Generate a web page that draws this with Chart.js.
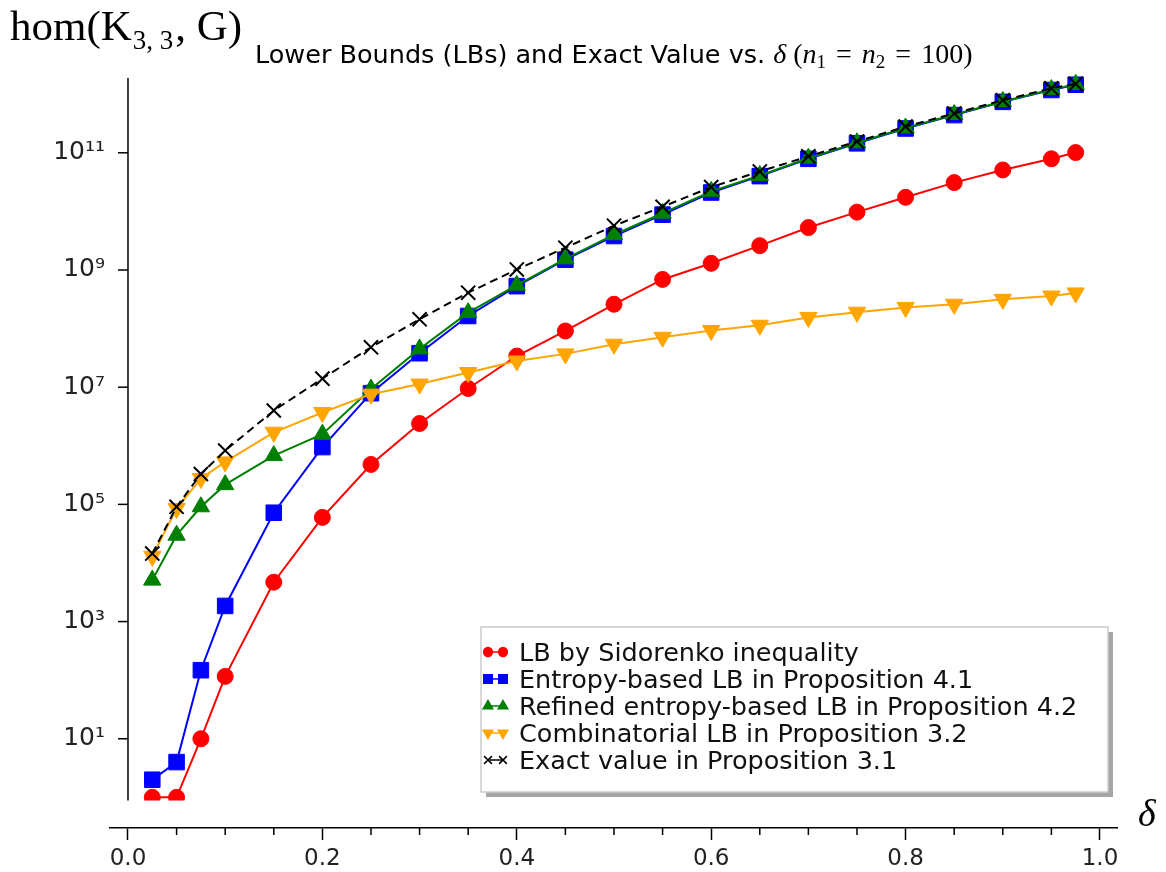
<!DOCTYPE html>
<html>
<head>
<meta charset="utf-8">
<script src="https://cdn.jsdelivr.net/npm/chart.js@4"></script>
<style>
  html, body { margin: 0; padding: 0; background: #fff; }
  #wrap { width: 1166px; height: 872px; }
</style>
</head>
<body>
<div id="wrap"><canvas id="homChart" width="1166" height="872"></canvas></div>
<script>
// delta values (x) and the five series
const deltas = [0.025, 0.05, 0.075, 0.1, 0.15, 0.2, 0.25, 0.3, 0.35, 0.4, 0.45,
                0.5, 0.55, 0.6, 0.65, 0.7, 0.75, 0.8, 0.85, 0.9, 0.95, 0.975];

const sidorenkoLB = [1, 1, 10, 116, 4.7e3, 6.0e4, 4.8e5, 2.4e6, 9.5e6, 3.4e7, 9.1e7,
                     2.6e8, 6.9e8, 1.3e9, 2.6e9, 5.3e9, 9.7e9, 1.74e10, 3.1e10, 5.1e10, 7.9e10, 1.01e11];

const entropyLB = [2, 4, 148, 1850, 7.2e4, 9.5e5, 7.9e6, 3.8e7, 1.64e8, 5.3e8, 1.5e9,
                   3.8e9, 8.8e9, 2.1e10, 4.0e10, 7.9e10, 1.45e11, 2.6e11, 4.4e11, 7.4e11, 1.18e12, 1.45e12];

const refinedEntropyLB = [5.1e3, 2.98e4, 9.1e4, 2.17e5, 6.8e5, 1.58e6, 9.3e6, 4.5e7, 1.87e8, 5.5e8, 1.55e9,
                          4.0e9, 9.3e9, 2.2e10, 4.1e10, 8.1e10, 1.48e11, 2.65e11, 4.5e11, 7.5e11, 1.2e12, 1.47e12];

const combinatorialLB = [1.3e4, 8.5e4, 2.76e5, 5.3e5, 1.7e6, 3.7e6, 7.6e6, 1.13e7, 1.78e7, 2.8e7, 3.7e7,
                         5.4e7, 7.1e7, 9.3e7, 1.14e8, 1.55e8, 1.9e8, 2.3e8, 2.6e8, 3.16e8, 3.6e8, 4.06e8];

const exactValue = [1.45e4, 9.1e4, 3.3e5, 8.3e5, 4.0e6, 1.4e7, 4.8e7, 1.44e8, 4.1e8, 1.02e9, 2.4e9,
                    5.7e9, 1.2e10, 2.6e10, 4.8e10, 8.7e10, 1.56e11, 2.8e11, 4.7e11, 7.9e11, 1.26e12, 1.5e12];

const seriesLabels = [
  'LB by Sidorenko inequality',
  'Entropy-based LB in Proposition 4.1',
  'Refined entropy-based LB in Proposition 4.2',
  'Combinatorial LB in Proposition 3.2',
  'Exact value in Proposition 3.1'
];

const xTickValues = [0, 0.05, 0.1, 0.15, 0.2, 0.25, 0.3, 0.35, 0.4, 0.45, 0.5,
                     0.55, 0.6, 0.65, 0.7, 0.75, 0.8, 0.85, 0.9, 0.95, 1.0];
const yTickValues = [1e1, 1e3, 1e5, 1e7, 1e9, 1e11];

const SUP = {'0':'⁰','1':'¹','2':'²','3':'³','4':'⁴','5':'⁵','6':'⁶','7':'⁷','8':'⁸','9':'⁹'};
function powLabel(v) {
  const e = Math.round(Math.log10(v));
  return '10' + String(e).split('').map(c => SUP[c]).join('');
}
function isMajorX(v) {
  return Math.abs(v * 5 - Math.round(v * 5)) < 1e-9;
}

function pts(ys) {
  return deltas.map((d, i) => ({x: d, y: ys[i]}));
}

const sansFont = "'DejaVu Sans', sans-serif";
const serifFont = "'Liberation Serif', 'DejaVu Serif', serif";
const Y_FLOOR = 0.88; // where the y spine stops

// axes lines, minor ticks, titles and the boxed legend
const decorations = {
  id: 'decorations',
  beforeDatasetsDraw(chart) {
    const {ctx, chartArea} = chart;
    const bottom = chart.scales.y.getPixelForValue(Y_FLOOR);
    ctx.save();
    ctx.beginPath();
    ctx.rect(chartArea.left, chartArea.top - 20, chartArea.right - chartArea.left, bottom - chartArea.top + 20);
    ctx.clip();
  },
  afterDatasetsDraw(chart) {
    chart.ctx.restore();
  },
  afterDraw(chart) {
    const {ctx, chartArea} = chart;
    const xs = chart.scales.x, ys = chart.scales.y;
    const x0 = xs.getPixelForValue(0);
    ctx.save();
    ctx.strokeStyle = '#000';
    ctx.lineWidth = 1.5;

    // detached y axis
    ctx.beginPath();
    ctx.moveTo(x0, chartArea.top);
    ctx.lineTo(x0, ys.getPixelForValue(Y_FLOOR));
    ctx.stroke();
    ys.ticks.forEach(t => {
      const py = ys.getPixelForValue(t.value);
      ctx.beginPath();
      ctx.moveTo(x0 - 10, py);
      ctx.lineTo(x0, py);
      ctx.stroke();
    });

    // minor x ticks
    xs.ticks.forEach(t => {
      if (isMajorX(t.value)) return;
      const px = xs.getPixelForValue(t.value);
      ctx.beginPath();
      ctx.moveTo(px, chartArea.bottom);
      ctx.lineTo(px, chartArea.bottom + 7);
      ctx.stroke();
    });

    // y-axis title hom(K_{3,3}, G)
    ctx.fillStyle = '#000';
    ctx.textBaseline = 'alphabetic';
    ctx.textAlign = 'left';
    let cx = 10;
    const big = '43px ' + serifFont, sub = '27px ' + serifFont;
    ctx.font = big; ctx.fillText('hom(K', cx, 40); cx += ctx.measureText('hom(K').width;
    ctx.font = sub; ctx.fillText('3, 3', cx + 1, 49); cx += ctx.measureText('3, 3').width + 3;
    ctx.font = big; ctx.fillText(', G)', cx, 40);

    // plot title
    cx = 255;
    const by = 63;
    ctx.font = '25.5px ' + sansFont;
    const t1 = 'Lower Bounds (LBs) and Exact Value vs. ';
    ctx.fillText(t1, cx, by); cx += ctx.measureText(t1).width;
    // [font, text, baseline shift, extra gap after]
    const parts = [
      ['italic 28px ' + serifFont, 'δ', 0, 0],
      ['28px ' + serifFont, ' (', 0, 0],
      ['italic 28px ' + serifFont, 'n', 0, 0],
      ['19px ' + serifFont, '1', 5, 3],
      ['28px ' + serifFont, ' = ', 0, 3],
      ['italic 28px ' + serifFont, 'n', 0, 0],
      ['19px ' + serifFont, '2', 5, 3],
      ['28px ' + serifFont, ' = ', 0, 3],
      ['28px ' + serifFont, '100)', 0, 0]
    ];
    parts.forEach(([f, s, dy, gap]) => {
      ctx.font = f;
      ctx.fillText(s, cx, by + dy);
      cx += ctx.measureText(s).width + gap;
    });

    // x-axis label delta
    ctx.font = 'italic 38px ' + serifFont;
    ctx.fillText('δ', 1138, 826);

    // legend box with shadow
    const lx = 481, ly = 627, lw = 627, lh = 165;
    ctx.fillStyle = 'rgba(0,0,0,0.35)';
    ctx.fillRect(lx + 5, ly + 5, lw, lh);
    ctx.fillStyle = '#fff';
    ctx.fillRect(lx, ly, lw, lh);
    ctx.strokeStyle = '#cccccc';
    ctx.lineWidth = 1.5;
    ctx.strokeRect(lx, ly, lw, lh);

    ctx.font = '25.5px ' + sansFont;
    chart.data.datasets.forEach((ds, i) => {
      const base = 661 + i * 27;
      const ry = base - 9;
      ctx.strokeStyle = ds.borderColor;
      ctx.lineWidth = 1.5;
      ctx.setLineDash([]);
      ctx.beginPath();
      ctx.moveTo(488, ry);
      ctx.lineTo(503, ry);
      ctx.stroke();
      [488, 503].forEach(mx => {
        ctx.strokeStyle = ds.pointBorderColor;
        ctx.fillStyle = ds.pointBackgroundColor;
        Chart.helpers.drawPoint(ctx, {
          pointStyle: ds.pointStyle,
          radius: ds.pointRadius * 0.55,
          rotation: ds.pointRotation || 0,
          borderWidth: ds.pointBorderWidth
        }, mx, ry);
      });
      ctx.fillStyle = '#111';
      ctx.fillText(seriesLabels[i], 519, base);
    });
    ctx.restore();
  }
};

const datasets = [
  {label: seriesLabels[0], data: pts(sidorenkoLB), borderColor: '#ff0000',
   pointBackgroundColor: '#ff0000', pointBorderColor: '#ff0000',
   pointStyle: 'circle', pointRadius: 8, pointBorderWidth: 1, order: 5},
  {label: seriesLabels[1], data: pts(entropyLB), borderColor: '#0000ff',
   pointBackgroundColor: '#0000ff', pointBorderColor: '#0000ff',
   pointStyle: 'rect', pointRadius: 11, pointBorderWidth: 1, order: 4},
  {label: seriesLabels[2], data: pts(refinedEntropyLB), borderColor: '#008000',
   pointBackgroundColor: '#008000', pointBorderColor: '#008000',
   pointStyle: 'triangle', pointRadius: 10, pointBorderWidth: 1, order: 3},
  {label: seriesLabels[3], data: pts(combinatorialLB), borderColor: '#ffa500',
   pointBackgroundColor: '#ffa500', pointBorderColor: '#ffa500',
   pointStyle: 'triangle', pointRotation: 180, pointRadius: 10, pointBorderWidth: 1, order: 2},
  {label: seriesLabels[4], data: pts(exactValue), borderColor: '#000000', borderDash: [8, 5],
   pointBackgroundColor: '#000000', pointBorderColor: '#000000',
   pointStyle: 'crossRot', pointRadius: 10, pointBorderWidth: 2, order: 1}
].map(ds => Object.assign({borderWidth: 2, fill: false, tension: 0, clip: false,
                           pointHoverRadius: ds.pointRadius}, ds));

new Chart(document.getElementById('homChart').getContext('2d'), {
  type: 'line',
  data: {datasets},
  options: {
    responsive: false,
    animation: false,
    events: [],
    layout: {padding: {left: 0, right: 49, top: 78, bottom: 0}},
    plugins: {legend: {display: false}, tooltip: {enabled: false}, title: {display: false}},
    scales: {
      x: {
        type: 'linear',
        min: -0.0185,
        max: 1.0175,
        afterBuildTicks: s => { s.ticks = xTickValues.map(v => ({value: v})); },
        afterFit: s => { s.height = 44; },
        border: {display: true, color: '#000', width: 1.5},
        grid: {
          display: true, drawOnChartArea: false, drawTicks: true, tickLength: 12, tickWidth: 1.5,
          tickColor: c => (c.tick && isMajorX(c.tick.value)) ? '#000' : 'rgba(0,0,0,0)'
        },
        ticks: {
          autoSkip: false, maxRotation: 0, padding: 5, color: '#222',
          font: {family: sansFont, size: 23},
          callback: v => isMajorX(v) ? v.toFixed(1) : ''
        }
      },
      y: {
        type: 'logarithmic',
        position: 'left',
        min: 0.3315,
        max: 1.89e12,
        afterBuildTicks: s => { s.ticks = yTickValues.map(v => ({value: v})); },
        afterFit: s => { s.width = 110; },
        border: {display: false},
        grid: {display: false, drawTicks: false},
        ticks: {
          padding: 5, color: '#222',
          font: {family: sansFont, size: 25},
          callback: v => powLabel(v)
        }
      }
    }
  },
  plugins: [decorations]
});
</script>
</body>
</html>
